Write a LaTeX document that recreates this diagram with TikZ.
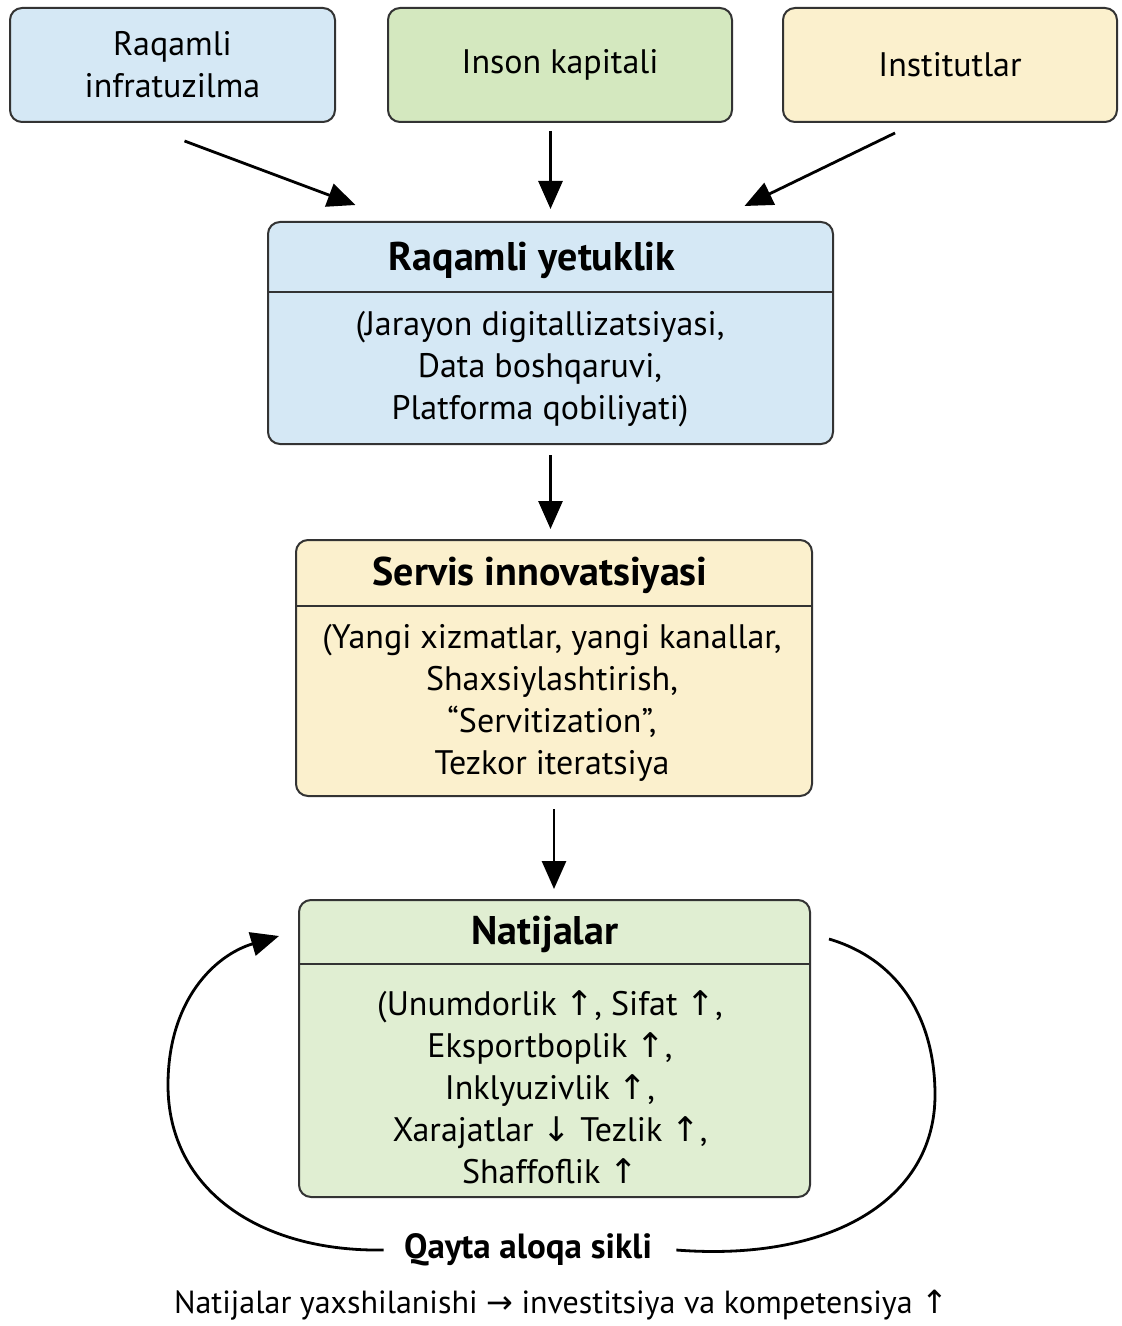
\documentclass[tikz,border=0pt]{standalone}
\usepackage{fontspec}
\setmainfont{PT Sans}
\newfontfamily\arrowfont{DejaVu Sans}
\usetikzlibrary{arrows.meta,calc,positioning}
\definecolor{boxblue}{HTML}{D5E8F5}
\definecolor{boxgreen}{HTML}{D4E8BF}
\definecolor{resgreen}{HTML}{E0EED2}
\definecolor{boxyellow}{HTML}{FBF0CD}
\definecolor{edge}{HTML}{333333}
\newcommand{\uarr}{{\arrowfont ↑}}
\newcommand{\darr}{{\arrowfont ↓}}
\newcommand{\rarr}{{\arrowfont →}}

\begin{document}
\begin{tikzpicture}[x=0.5pt,y=-0.5pt,
  box/.style={draw=edge,line width=1pt,rounded corners=6pt},
  txt/.style={align=center,inner sep=0pt,font=\fontsize{17}{21}\selectfont},
  head/.style={inner sep=0pt,font=\fontsize{20}{24}\selectfont\bfseries},
  arr/.style={line width=1.4pt,-{Triangle[length=14pt,width=12pt]}}]
\useasboundingbox (0,0) rectangle (1122,1326);

% inputs
\node[box,txt,fill=boxblue,minimum width=162.5pt,minimum height=57pt] (infra) at (172.5,65) {Raqamli\\infratuzilma};
\node[box,txt,fill=boxgreen,minimum width=172pt,minimum height=57pt] (inson) at (560,65) {Inson kapitali};
\node[box,txt,fill=boxyellow,minimum width=167pt,minimum height=57pt] (inst) at (950,65) {Institutlar};

% digital maturity
\node[box,fill=boxblue,minimum width=282.5pt,minimum height=111pt] (ry) at (550.5,333) {};
\draw[edge,line width=1pt] ([yshift=-35.5pt]ry.north west) -- ([yshift=-35.5pt]ry.north east);
\node[head] (ryhead) at (532,260) {Raqamli yetuklik};
\node[txt] (rybody) at (540,369) {(Jarayon digitallizatsiyasi,\\Data boshqaruvi,\\Platforma qobiliyati)};

% service innovation
\node[box,fill=boxyellow,minimum width=258pt,minimum height=128pt] (si) at (554,668) {};
\draw[edge,line width=1pt] ([yshift=-33.5pt]si.north west) -- ([yshift=-33.5pt]si.north east);
\node[head] (sihead) at (540,575) {Servis innovatsiyasi};
\node[txt] (sibody) at (552,703) {(Yangi xizmatlar, yangi kanallar,\\Shaxsiylashtirish,\\“Servitization”,\\Tezkor iteratsiya};

% outcomes
\node[box,fill=resgreen,minimum width=255.5pt,minimum height=148.5pt] (nat) at (554.5,1048.5) {};
\draw[edge,line width=1pt] ([yshift=-32.5pt]nat.north west) -- ([yshift=-32.5pt]nat.north east);
\node[head] (nathead) at (545,934) {Natijalar};
\node[txt] (natbody) at (550,1087) {(Unumdorlik \uarr, Sifat \uarr,\\Eksportboplik \uarr,\\Inklyuzivlik \uarr,\\Xarajatlar \darr{} Tezlik \uarr,\\Shaffoflik \uarr};

% feedback
\node[head,font=\fontsize{17.5}{21}\selectfont\bfseries] (loop) at (528,1250) {Qayta aloqa sikli};
\node[txt,font=\fontsize{16}{20}\selectfont] (gain) at (561,1305) {Natijalar yaxshilanishi \rarr{} investitsiya va\ kompetensiya \uarr};
\coordinate (loopin) at ($(nat.north west)+(-9.5pt,-18.5pt)$);
\coordinate (loopout) at ($(nat.north east)+(9pt,-20pt)$);

\draw[arr] ($(infra.south)+(6pt,-9pt)$) -- ($(ry.north)+(-97.5pt,8pt)$);
\draw[arr] ($(ry.north |- inson.south)+(0,-4pt)$) -- ($(ry.north)+(0,6pt)$);
\draw[arr] ($(inst.south)+(-27.5pt,-5pt)$) -- ($(ry.north)+(97pt,7.5pt)$);
\draw[arr,shorten <=5pt,shorten >=5pt] (ry.south) -- (ry.south |- si.north);
\draw[arr,shorten <=6pt,shorten >=5pt] (si.south) -- (si.south |- nat.north);

\draw[line width=1.4pt] (loopout) .. controls (900,960) and (935,1020) .. (935,1095)
  .. controls (935,1200) and (830,1262) .. ($(loop.east)+(12pt,0)$);
\draw[arr] ($(loop.west)+(-10pt,0)$) .. controls (260,1252) and (168,1190) .. (168,1085)
  .. controls (168,1000) and (215,955) .. (loopin);
\end{tikzpicture}
\end{document}
